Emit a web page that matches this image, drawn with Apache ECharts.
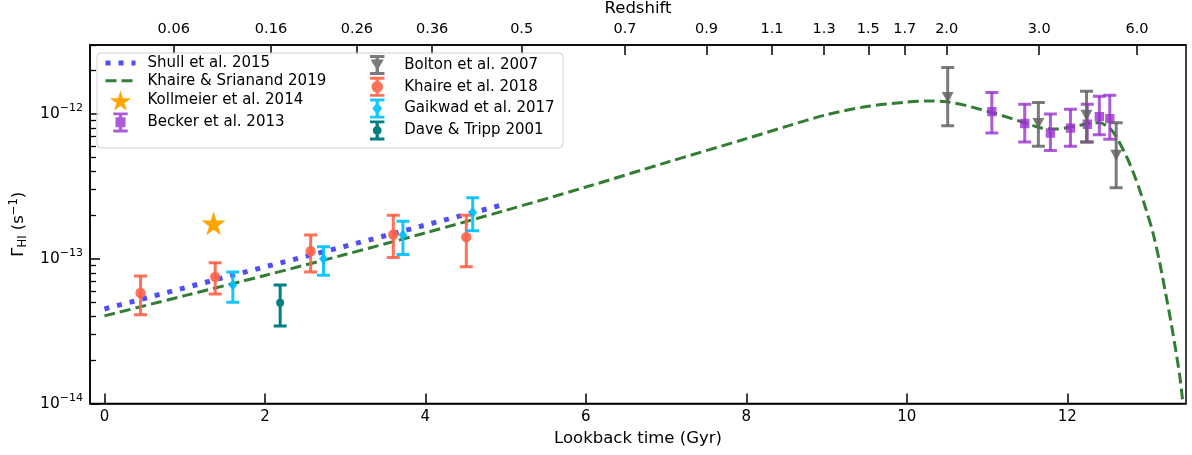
<!DOCTYPE html>
<html>
<head>
<meta charset="utf-8">
<script src="https://cdn.jsdelivr.net/npm/echarts@6/dist/echarts.min.js"></script>
<style>
html, body { margin: 0; padding: 0; background: #fff; }
#chart { width: 1192px; height: 455px; }
</style>
</head>
<body>
<div id="chart"></div>
<script>
// lookback time (Gyr) vs Gamma_HI (s^-1)
const shullT = [0, 1, 2, 3, 4, 5];
const shullG = [4.5e-14, 6.3e-14, 8.8e-14, 1.22e-13, 1.71e-13, 2.39e-13];

const ks19T = [0, 1, 2, 3, 4, 5, 6, 7, 8, 8.5, 9, 9.5, 10, 10.25, 10.5, 11.07, 11.49, 11.66, 11.86, 12.07, 12.28, 12.40, 12.53, 12.61, 12.74, 12.82, 12.90, 12.98, 13.07, 13.15, 13.23, 13.30, 13.36, 13.40, 13.43, 13.46];
const ks19G = [4.03e-14, 5.56e-14, 7.67e-14, 1.07e-13, 1.51e-13, 2.16e-13, 3.13e-13, 4.62e-13, 6.76e-13, 8.22e-13, 9.89e-13, 1.127e-12, 1.208e-12, 1.23e-12, 1.216e-12, 1.02e-12, 8.63e-13, 8.05e-13, 7.87e-13, 8.17e-13, 8.63e-13, 8.71e-13, 7.96e-13, 6.97e-13, 5.07e-13, 3.98e-13, 3.02e-13, 2.21e-13, 1.50e-13, 9.55e-14, 5.62e-14, 3.47e-14, 2.19e-14, 1.58e-14, 1.15e-14, 7.9e-15];

const kollmeierT = [1.36];
const kollmeierG = [1.76e-13];

const beckerT = [11.06, 11.47, 11.79, 12.04, 12.25, 12.40, 12.53];
const beckerG = [1.04e-12, 8.6e-13, 7.4e-13, 8.0e-13, 8.5e-13, 9.6e-13, 9.3e-13];
const beckerLo = [7.4e-13, 6.4e-13, 5.6e-13, 6.0e-13, 6.4e-13, 7.2e-13, 6.7e-13];
const beckerHi = [1.41e-12, 1.17e-12, 1.0e-12, 1.08e-12, 1.17e-12, 1.33e-12, 1.35e-12];

const boltonT = [10.51, 11.64, 12.24, 12.61];
const boltonG = [1.30e-12, 8.6e-13, 9.8e-13, 5.2e-13];
const boltonLo = [8.3e-13, 6.0e-13, 6.4e-13, 3.1e-13];
const boltonHi = [2.1e-12, 1.2e-12, 1.44e-12, 8.7e-13];

const khaire18T = [0.45, 1.38, 2.57, 3.60, 4.51];
const khaire18G = [5.8e-14, 7.5e-14, 1.13e-13, 1.47e-13, 1.41e-13];
const khaire18Lo = [4.1e-14, 5.7e-14, 8.1e-14, 1.02e-13, 8.8e-14];
const khaire18Hi = [7.6e-14, 9.4e-14, 1.46e-13, 2.0e-13, 2.0e-13];

const gaikwadT = [1.60, 2.73, 3.72, 4.59];
const gaikwadG = [6.6e-14, 1.0e-13, 1.46e-13, 2.09e-13];
const gaikwadLo = [5.0e-14, 7.7e-14, 1.07e-13, 1.56e-13];
const gaikwadHi = [8.1e-14, 1.21e-13, 1.82e-13, 2.64e-13];

const daveT = [2.19];
const daveG = [4.97e-14];
const daveLo = [3.43e-14];
const daveHi = [6.6e-14];

// ticks
const timeTicks = [0, 2, 4, 6, 8, 10, 12];
const gammaTicks = [1e-14, 1e-13, 1e-12];
const gammaMinor = [2e-14, 3e-14, 4e-14, 5e-14, 6e-14, 7e-14, 8e-14, 9e-14,
  2e-13, 3e-13, 4e-13, 5e-13, 6e-13, 7e-13, 8e-13, 9e-13, 2e-12, 3e-12];
const zTickT = [0.864, 2.076, 3.147, 4.085, 5.2, 6.488, 7.503, 8.32, 8.97, 9.52, 9.975, 10.497, 11.65, 12.87];
const zLabels = ['0.06', '0.16', '0.26', '0.36', '0.5', '0.7', '0.9', '1.1', '1.3', '1.5', '1.7', '2.0', '3.0', '6.0'];

const FONT = 'DejaVu Sans';
const X_MIN = -0.18, X_MAX = 13.48;
const Y_MIN = 1e-14, Y_MAX = 3e-12;

const SHULL_COLOR = '#4f4ff5';
const KS_COLOR = '#307d33';

function zip(a, b) { return a.map((v, i) => [v, b[i]]); }

function markerShape(kind, c, color) {
  const x = c[0], y = c[1];
  if (kind === 'circle') return { type: 'circle', shape: { cx: x, cy: y, r: 5.2 }, style: { fill: color } };
  if (kind === 'small') return { type: 'circle', shape: { cx: x, cy: y, r: 4 }, style: { fill: color } };
  if (kind === 'square') return { type: 'rect', shape: { x: x - 4.7, y: y - 4.7, width: 9.4, height: 9.4 }, style: { fill: color } };
  if (kind === 'diamond') return { type: 'polygon', shape: { points: [[x, y - 5.5], [x + 4.5, y], [x, y + 5.5], [x - 4.5, y]] }, style: { fill: color } };
  return { type: 'polygon', shape: { points: [[x - 6, y - 5.5], [x + 6, y - 5.5], [x, y + 5.5]] }, style: { fill: color } };
}

function errorBars(name, color, T, G, lo, hi, marker) {
  return {
    name: name,
    type: 'custom',
    clip: true,
    z: 3,
    itemStyle: { color: color },
    encode: { x: 0, y: 1 },
    data: T.map((t, i) => [t, G[i], lo[i], hi[i]]),
    renderItem: function (params, api) {
      const c = api.coord([api.value(0), api.value(1)]);
      const a = api.coord([api.value(0), api.value(3)]);
      const b = api.coord([api.value(0), api.value(2)]);
      const cap = 6.5;
      const ls = { stroke: color, lineWidth: 3 };
      return {
        type: 'group',
        children: [
          { type: 'line', shape: { x1: c[0], y1: a[1], x2: c[0], y2: b[1] }, style: ls },
          { type: 'line', shape: { x1: c[0] - cap, y1: a[1], x2: c[0] + cap, y2: a[1] }, style: ls },
          { type: 'line', shape: { x1: c[0] - cap, y1: b[1], x2: c[0] + cap, y2: b[1] }, style: ls },
          markerShape(marker, c, color)
        ]
      };
    }
  };
}

// legend icons: errorbar (I shape) + marker, drawn in a 13x18 box
const ibeam = 'M0,0 H13 V2.6 H8 V15.4 H13 V18 H0 V15.4 H5 V2.6 H0 Z ';
const icons = {
  becker: 'path://' + ibeam + 'M2,4.4 H11 V13.4 H2 Z',
  bolton: 'path://' + ibeam + 'M0.5,4 H12.5 L6.5,14 Z',
  khaire: 'path://' + ibeam + 'M1.3,9 A5.2,5.2 0 1,1 11.7,9 A5.2,5.2 0 1,1 1.3,9 Z',
  gaikwad: 'path://' + ibeam + 'M6.5,3.5 L11,9 L6.5,14.5 L2,9 Z',
  dave: 'path://' + ibeam + 'M2.5,9 A4,4 0 1,1 10.5,9 A4,4 0 1,1 2.5,9 Z'
};
const starPath = 'path://M50,0 L61,35 L98,35 L68,57 L79,91 L50,70 L21,91 L32,57 L2,35 L39,35 Z';

const legendText = { color: '#000', fontSize: 15, fontFamily: FONT, padding: [0, 0, 0, 7] };
const legendBase = {
  top: 55, orient: 'vertical', padding: 0, z: 5,
  itemWidth: 30, itemHeight: 20, itemGap: 1.8, textStyle: legendText
};

const chart = echarts.init(document.getElementById('chart'));
chart.setOption({
  animation: false,
  backgroundColor: '#fff',
  textStyle: { fontFamily: FONT },
  grid: [
    { left: 90, right: 6, top: 45, bottom: 51.5, show: true, borderColor: '#000', borderWidth: 1.5, outerBoundsMode: 'none', containLabel: false },
    { left: 90, right: 6, top: 45, bottom: 51.5, outerBoundsMode: 'none', containLabel: false }
  ],
  graphic: [{
    type: 'rect', z: 3,
    shape: { x: 97, y: 53, width: 466, height: 95, r: 4 },
    style: { fill: 'rgba(255,255,255,0.85)', stroke: '#d0d0d0', lineWidth: 1 }
  }],
  legend: [
    Object.assign({}, legendBase, {
      left: 103,
      data: [
        { name: 'Shull et al. 2015', itemStyle: { opacity: 0 }, lineStyle: { color: SHULL_COLOR, width: 5, type: [5, 8], cap: 'butt' } },
        { name: 'Khaire & Srianand 2019', itemStyle: { opacity: 0 }, lineStyle: { color: KS_COLOR, width: 3, type: [11, 5], cap: 'butt' } },
        { name: 'Kollmeier et al. 2014', icon: starPath },
        { name: 'Becker et al. 2013', icon: icons.becker }
      ]
    }),
    Object.assign({}, legendBase, {
      left: 370,
      data: [
        { name: 'Bolton et al. 2007', icon: icons.bolton },
        { name: 'Khaire et al. 2018', icon: icons.khaire },
        { name: 'Gaikwad et al. 2017', icon: icons.gaikwad },
        { name: 'Dave & Tripp 2001', icon: icons.dave }
      ]
    })
  ],
  xAxis: [
    {
      type: 'value', gridIndex: 0, position: 'bottom', min: X_MIN, max: X_MAX,
      name: 'Lookback time (Gyr)', nameLocation: 'middle', nameGap: 27,
      nameTextStyle: { fontSize: 16.5, color: '#000', fontFamily: FONT },
      axisLine: { show: true, onZero: false, lineStyle: { color: '#000', width: 1.5 } },
      axisTick: { inside: true, length: 10, lineStyle: { color: '#000', width: 1.5 }, customValues: timeTicks },
      axisLabel: { fontSize: 15, color: '#000', margin: 6, customValues: timeTicks },
      splitLine: { show: false }
    },
    {
      type: 'value', gridIndex: 0, position: 'top', min: X_MIN, max: X_MAX,
      name: 'Redshift', nameLocation: 'middle', nameGap: 28,
      nameTextStyle: { fontSize: 16.5, color: '#000', fontFamily: FONT },
      axisLine: { show: true, onZero: false, lineStyle: { color: '#000', width: 1.5 } },
      axisTick: { inside: true, length: 10, lineStyle: { color: '#000', width: 1.5 }, customValues: zTickT },
      axisLabel: {
        fontSize: 14.5, color: '#000', margin: 8, customValues: zTickT,
        formatter: function (v) {
          let best = 0;
          zTickT.forEach((t, i) => { if (Math.abs(t - v) < Math.abs(zTickT[best] - v)) best = i; });
          return zLabels[best];
        }
      },
      splitLine: { show: false }
    },
    { type: 'value', gridIndex: 1, min: 0, max: 1, show: false }
  ],
  yAxis: [
    {
      type: 'log', logBase: 10, gridIndex: 0, position: 'left', min: Y_MIN, max: Y_MAX,
      name: 'Γ{sub|HI} (s{sup|−1})', nameLocation: 'middle', nameGap: 60, nameRotate: 90,
      nameTextStyle: {
        fontSize: 16.5, color: '#000', fontFamily: FONT,
        rich: { sub: { fontSize: 11.5, padding: [8, 0, 0, 0], fontFamily: FONT }, sup: { fontSize: 11.5, padding: [0, 0, 10, 0], fontFamily: FONT } }
      },
      axisLine: { show: true, onZero: false, lineStyle: { color: '#000', width: 1.5 } },
      axisTick: { inside: true, length: 10, lineStyle: { color: '#000', width: 1.5 }, customValues: gammaTicks },
      axisLabel: {
        fontSize: 15.5, color: '#000', margin: 7, customValues: gammaTicks,
        formatter: function (v) { return '10{sup|−' + Math.round(-Math.log10(v)) + '}'; },
        rich: { sup: { fontSize: 11, padding: [0, 0, 11, 0], fontFamily: FONT } }
      },
      splitLine: { show: false }
    },
    {
      type: 'log', logBase: 10, gridIndex: 1, position: 'left', min: Y_MIN, max: Y_MAX,
      axisLine: { show: false, onZero: false },
      axisTick: { inside: true, length: 6, lineStyle: { color: '#000', width: 1.3 }, customValues: gammaMinor },
      axisLabel: { show: false },
      splitLine: { show: false }
    }
  ],
  series: [
    {
      name: 'Shull et al. 2015', type: 'line', xAxisIndex: 0, yAxisIndex: 0,
      data: zip(shullT, shullG), symbol: 'none', clip: true, z: 2,
      itemStyle: { color: SHULL_COLOR },
      lineStyle: { color: SHULL_COLOR, width: 5, type: [5, 8], cap: 'butt' }
    },
    {
      name: 'Khaire & Srianand 2019', type: 'line', xAxisIndex: 0, yAxisIndex: 0,
      data: zip(ks19T, ks19G), symbol: 'none', smooth: 0.3, clip: true, z: 2,
      itemStyle: { color: KS_COLOR },
      lineStyle: { color: KS_COLOR, width: 3, type: [11, 5], cap: 'butt' }
    },
    {
      name: 'Kollmeier et al. 2014', type: 'scatter', xAxisIndex: 0, yAxisIndex: 0,
      data: zip(kollmeierT, kollmeierG), symbol: starPath, symbolSize: 24, z: 3,
      itemStyle: { color: '#ffa500', opacity: 1 }
    },
    errorBars('Becker et al. 2013', 'rgba(153,50,204,0.8)', beckerT, beckerG, beckerLo, beckerHi, 'square'),
    errorBars('Bolton et al. 2007', 'rgba(100,100,100,0.85)', boltonT, boltonG, boltonLo, boltonHi, 'tri'),
    errorBars('Khaire et al. 2018', 'rgba(255,99,71,0.9)', khaire18T, khaire18G, khaire18Lo, khaire18Hi, 'circle'),
    errorBars('Gaikwad et al. 2017', 'rgba(0,191,255,0.9)', gaikwadT, gaikwadG, gaikwadLo, gaikwadHi, 'diamond'),
    errorBars('Dave & Tripp 2001', '#008080', daveT, daveG, daveLo, daveHi, 'small')
  ]
});
</script>
</body>
</html>
